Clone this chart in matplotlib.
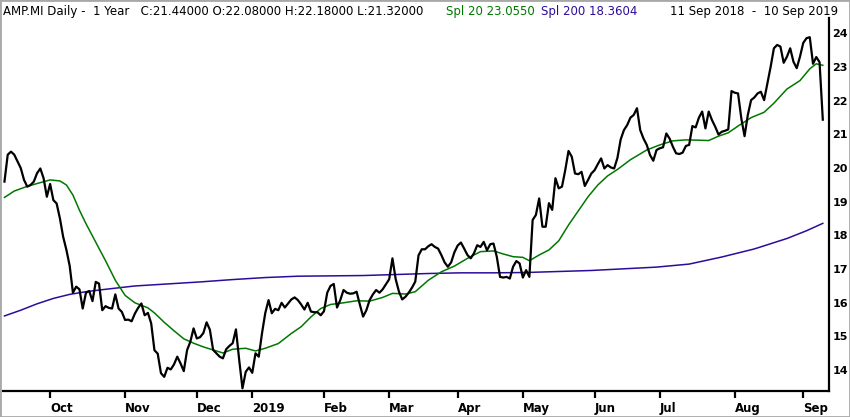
import numpy as np
import pandas as pd
import matplotlib
matplotlib.use("Agg")
from matplotlib import pyplot as plt
from matplotlib.patches import Rectangle

# ---- data ----
start_date = '2018-09-11'
end_date = '2019-09-10'
holidays = ['2018-12-24', '2018-12-25', '2018-12-26', '2018-12-31', '2019-01-01',
            '2019-04-19', '2019-04-22', '2019-05-01', '2019-08-15']

close = [19.60, 20.40, 20.49, 20.40, 20.20, 20.00, 19.65, 19.45, 19.50, 19.60,
         19.85, 19.99, 19.70, 19.15, 19.53, 19.05, 18.95, 18.51, 17.96, 17.57,
         17.10, 16.30, 16.48, 16.40, 15.83, 16.30, 16.35, 16.05, 16.62, 16.57,
         15.78, 15.90, 15.85, 15.83, 16.25, 15.83, 15.73, 15.49, 15.50, 15.45,
         15.68, 15.85, 15.98, 15.63, 15.70, 15.39, 14.59, 14.49, 13.91, 13.80,
         14.07, 14.02, 14.17, 14.40, 14.20, 13.97, 14.59, 14.84, 15.24, 14.94,
         14.98, 15.10, 15.42, 15.20, 14.60, 14.50, 14.40, 14.35, 14.62, 14.72,
         14.80, 15.21, 14.30, 13.46, 13.95, 14.08, 13.92, 14.50, 14.40, 15.10,
         15.70, 16.08, 15.69, 15.82, 15.78, 16.00, 15.86, 15.98, 16.10, 16.16,
         16.08, 15.95, 15.80, 16.00, 15.74, 15.72, 15.72, 15.63, 15.75, 16.30,
         16.50, 16.56, 15.86, 16.08, 16.38, 16.30, 16.27, 16.28, 16.33, 15.95,
         15.59, 15.78, 16.08, 16.25, 16.38, 16.30, 16.40, 16.55, 16.70, 17.32,
         16.70, 16.33, 16.10, 16.18, 16.30, 16.45, 16.63, 17.41, 17.59, 17.59,
         17.68, 17.74, 17.66, 17.61, 17.42, 17.20, 17.07, 17.20, 17.50, 17.70,
         17.79, 17.61, 17.42, 17.32, 17.47, 17.71, 17.66, 17.81, 17.56, 17.74,
         17.76, 17.37, 16.77, 16.75, 16.77, 16.72, 17.07, 17.24, 17.17, 16.75,
         16.97, 16.77, 18.46, 18.61, 19.10, 18.26, 18.26, 18.96, 18.76, 19.70,
         19.40, 19.45, 19.94, 20.51, 20.34, 19.84, 19.82, 19.89, 19.47, 19.65,
         19.84, 19.94, 20.12, 20.29, 19.99, 20.09, 20.02, 19.99, 20.30, 20.85,
         21.13, 21.28, 21.50, 21.58, 21.78, 21.13, 20.88, 20.69, 20.39, 20.22,
         20.54, 20.59, 20.62, 21.03, 20.88, 20.64, 20.44, 20.42, 20.46, 20.66,
         20.69, 21.25, 21.21, 21.50, 21.68, 21.18, 21.68, 21.43, 21.23, 21.00,
         21.08, 21.11, 21.15, 22.29, 22.24, 22.22, 21.48, 20.95, 21.58, 22.02,
         22.10, 22.22, 22.27, 22.02, 22.52, 23.01, 23.56, 23.66, 23.61, 23.13,
         23.31, 23.56, 23.16, 22.97, 23.31, 23.72, 23.86, 23.89, 23.10, 23.30,
         23.15, 21.44]

# moving averages, read at sparse trading-day positions
spl20_day = [0, 3, 7, 11, 14, 17, 19, 21, 23, 25, 28, 31, 34, 37, 40, 44, 46, 49,
             52, 55, 58, 61, 64, 67, 70, 74, 77, 80, 84, 88, 91, 94, 97, 100, 104,
             108, 112, 116, 119, 123, 126, 130, 134, 138, 142, 146, 150, 153, 156,
             159, 161, 164, 167, 170, 173, 176, 179, 182, 185, 188, 192, 197, 201,
             205, 209, 213, 216, 219, 222, 225, 229, 233, 236, 240, 244, 247, 249, 251]
spl20_val = [19.13, 19.32, 19.46, 19.57, 19.65, 19.62, 19.50, 19.20, 18.75, 18.35,
             17.80, 17.25, 16.67, 16.22, 16.00, 15.85, 15.70, 15.42, 15.17, 14.93,
             14.80, 14.69, 14.60, 14.51, 14.62, 14.65, 14.57, 14.65, 14.79, 15.09,
             15.29, 15.58, 15.83, 15.95, 16.00, 16.06, 16.05, 16.16, 16.28, 16.26,
             16.33, 16.67, 16.92, 17.09, 17.32, 17.52, 17.54, 17.45, 17.37, 17.35,
             17.25, 17.42, 17.57, 17.84, 18.31, 18.73, 19.15, 19.50, 19.77, 19.96,
             20.25, 20.54, 20.69, 20.81, 20.84, 20.83, 20.82, 20.95, 21.05, 21.25,
             21.50, 21.66, 21.93, 22.35, 22.60, 22.95, 23.10, 23.055]

spl200_day = [0, 5, 10, 15, 20, 25, 30, 40, 50, 60, 70, 80, 90, 100, 110, 120, 130,
              140, 150, 160, 170, 180, 190, 200, 210, 220, 225, 230, 240, 246, 251]
spl200_val = [15.61, 15.78, 15.97, 16.13, 16.25, 16.33, 16.39, 16.50, 16.56, 16.62,
              16.69, 16.75, 16.79, 16.80, 16.81, 16.84, 16.87, 16.89, 16.89, 16.90,
              16.93, 16.96, 17.01, 17.06, 17.15, 17.36, 17.48, 17.60, 17.91, 18.14,
              18.36]

month_labels = ['Oct', 'Nov', 'Dec', '2019', 'Feb', 'Mar', 'Apr', 'May', 'Jun',
                'Jul', 'Aug', 'Sep']
y_ticks = [14, 15, 16, 17, 18, 19, 20, 21, 22, 23, 24]

# trading calendar -> day index
days = pd.bdate_range(start_date, end_date)
days = days[~days.isin(pd.to_datetime(holidays))]
day_idx = np.arange(len(days))
first_of_month = [i for i in range(1, len(days)) if days[i].month != days[i - 1].month]

green = '#007800'
purple = '#2c0c9a'

W, H = 850, 417
fig = plt.figure(figsize=(W / 100, H / 100), dpi=100)
ax = fig.add_axes([3 / W, 26 / H, 826 / W, 373 / H])

ax.plot(spl200_day, spl200_val, color=purple, lw=1.1)
ax.plot(spl20_day, spl20_val, color=green, lw=1.1)
ax.plot(day_idx[:len(close)], close, color='black', lw=1.6)

ax.set_xlim(-0.45, 252.9)
ax.set_ylim(13.38, 24.46)

for s in ['left', 'top']:
    ax.spines[s].set_visible(False)
for s in ['bottom', 'right']:
    ax.spines[s].set_linewidth(1.6)

ax.set_xticks(first_of_month)
ax.set_xticklabels(month_labels, ha='left', fontsize=8.5, fontweight='bold')
ax.tick_params(axis='x', direction='out', length=5, width=1.6, pad=3)
ax.yaxis.tick_right()
ax.set_yticks(y_ticks)
ax.set_yticklabels([str(v) for v in y_ticks], fontsize=8, fontweight='bold')
ax.tick_params(axis='y', length=0, pad=2.5)

ty = 1 - 12 / H
fig.text(3 / W, ty, 'AMP.MI Daily -  1 Year   C:21.44000 O:22.08000 H:22.18000 L:21.32000',
         fontsize=8.5, va='center', ha='left')
fig.text(446 / W, ty, 'Spl 20 23.0550', color=green, fontsize=8.5, va='center', ha='left')
fig.text(541 / W, ty, 'Spl 200 18.3604', color=purple, fontsize=8.5, va='center', ha='left')
fig.text(838 / W, ty, '11 Sep 2018  -  10 Sep 2019', fontsize=8.5, va='center', ha='right')

# grey frame round the picture
fig.patches.append(Rectangle((0, 0), 1, 1, transform=fig.transFigure, fill=False,
                             edgecolor='#a8a8a8', lw=2))

fig.savefig('out.png', dpi=100)
